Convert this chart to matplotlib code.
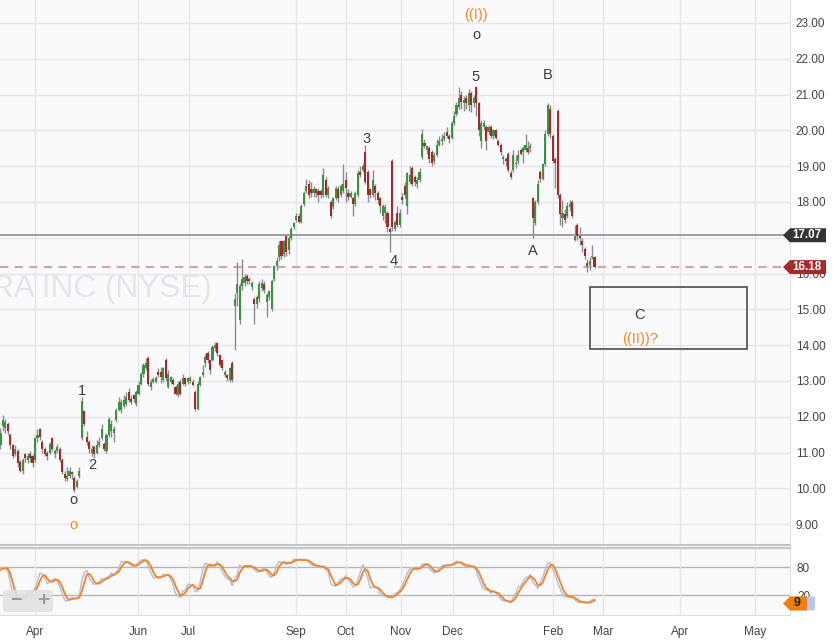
import numpy as np
import pandas as pd
import matplotlib
matplotlib.use('Agg')
import matplotlib.pyplot as plt
from matplotlib.patches import Rectangle, Polygon, FancyBboxPatch
from matplotlib.transforms import blended_transform_factory

plt.rcParams['font.family'] = ['Liberation Sans', 'DejaVu Sans']

###############################################################################
# Data (daily candles, one slot per trading day)
###############################################################################
opens = [
    11.20, 11.75, 11.70, 11.80, 11.50, 11.20, 10.95, 11.05, 10.75, 10.50,
    10.95, 10.80, 10.95, 10.90, 10.80, 11.40, 11.65, 11.30, 11.10, 11.00,
    11.00, 11.40, 10.95, 11.05, 11.10, 10.80, 10.40, 10.25, 10.35, 10.45,
    10.30, 10.05, 10.35, 11.40, 12.15, 11.45, 11.30, 11.00, 11.15, 11.00,
    11.20, 11.40, 11.25, 11.05, 11.50, 11.60, 11.55, 11.90, 12.20, 12.20,
    12.30, 12.35, 12.70, 12.50, 12.60, 12.37, 12.65, 12.93, 13.20, 13.35,
    13.63, 12.84, 12.98, 12.98, 13.25, 13.25, 13.02, 13.60, 12.84, 12.98,
    13.02, 12.84, 12.60, 12.98, 12.93, 13.07, 12.98, 13.00, 12.98, 12.70,
    12.23, 12.88, 13.16, 13.50, 13.77, 13.58, 13.58, 13.92, 14.05, 13.72,
    13.58, 13.16, 13.16, 13.02, 13.49, 15.10, 15.47, 14.70, 15.65, 15.75,
    15.92, 15.85, 15.62, 15.30, 15.15, 15.30, 15.60, 15.70, 15.20, 15.35,
    15.00, 15.85, 16.20, 16.45, 16.90, 16.55, 17.05, 16.65, 17.00, 17.30,
    17.50, 17.62, 17.45, 17.95, 18.30, 18.50, 18.35, 18.25, 18.35, 18.30,
    18.30, 18.20, 18.60, 18.20, 18.00, 17.85, 18.10, 18.35, 18.20, 18.30,
    18.60, 18.25, 18.15, 18.10, 17.95, 18.20, 18.85, 18.90, 19.40, 18.85,
    18.35, 18.20, 18.45, 18.25, 18.10, 17.60, 17.70, 17.70, 17.25, 19.15,
    17.25, 17.70, 17.35, 18.15, 18.45, 17.90, 18.55, 18.95, 18.70, 18.50,
    18.60, 19.25, 19.65, 19.45, 19.50, 19.40, 19.15, 19.30, 19.60, 19.70,
    19.75, 19.95, 19.85, 19.80, 20.20, 20.45, 20.65, 21.00, 20.75, 20.90,
    20.70, 21.05, 20.75, 21.20, 20.75, 19.70, 20.10, 20.10, 19.95, 20.10,
    19.85, 20.00, 19.70, 19.60, 19.20, 19.20, 19.35, 18.80, 18.90, 19.05,
    19.15, 19.45, 19.40, 19.45, 19.50, 19.50, 18.10, 17.40, 18.00, 18.85,
    18.65, 19.05, 19.90, 20.60, 19.85, 19.20, 20.55, 18.20, 17.55, 17.65,
    17.60, 17.85, 18.00, 16.95, 17.35, 17.05, 16.90, 16.70, 16.30, 16.25,
    16.45, 16.45,
]
closes = [
    11.55, 11.90, 11.85, 11.60, 11.20, 10.90, 11.10, 10.70, 10.50, 10.80,
    10.85, 10.90, 10.85, 10.70, 11.40, 11.50, 11.45, 11.10, 10.95, 10.90,
    11.25, 11.10, 11.05, 11.15, 10.80, 10.45, 10.30, 10.35, 10.50, 10.40,
    9.95, 10.20, 10.50, 12.45, 11.80, 11.30, 11.10, 11.10, 10.95, 11.20,
    11.30, 11.65, 11.10, 11.50, 11.95, 11.80, 11.65, 12.20, 12.40, 12.40,
    12.47, 12.55, 12.47, 12.42, 12.50, 12.70, 12.88, 13.20, 13.44, 13.49,
    12.93, 12.98, 13.05, 13.07, 13.16, 13.12, 13.35, 13.07, 13.20, 13.10,
    12.93, 12.65, 12.93, 12.65, 13.07, 12.93, 13.07, 13.07, 12.88, 12.23,
    12.93, 13.12, 13.25, 13.67, 13.58, 13.30, 13.95, 14.00, 13.77, 13.44,
    13.35, 13.25, 13.07, 13.35, 13.02, 15.30, 15.70, 15.65, 15.85, 15.90,
    15.80, 15.78, 15.75, 15.15, 15.35, 15.70, 15.75, 15.55, 15.40, 15.50,
    15.80, 16.20, 16.35, 16.80, 16.50, 16.90, 16.60, 17.00, 17.25, 17.40,
    17.60, 17.45, 17.90, 18.25, 18.45, 18.20, 18.25, 18.35, 18.25, 18.20,
    18.20, 18.75, 18.20, 18.40, 17.60, 18.10, 18.40, 18.10, 18.45, 18.50,
    18.40, 18.15, 18.25, 17.95, 18.25, 18.80, 18.75, 19.00, 18.55, 18.20,
    18.20, 18.60, 18.25, 18.05, 17.90, 17.90, 17.85, 17.30, 17.15, 17.30,
    17.45, 17.35, 17.70, 18.05, 18.20, 18.80, 18.75, 18.50, 18.55, 18.60,
    18.85, 19.90, 19.55, 19.55, 19.20, 19.10, 19.30, 19.60, 19.70, 19.75,
    19.85, 19.85, 19.75, 20.20, 20.40, 20.70, 20.90, 20.80, 20.85, 20.75,
    21.05, 20.70, 20.90, 20.75, 20.00, 20.20, 20.20, 19.70, 20.10, 19.85,
    20.00, 19.80, 19.60, 19.40, 19.25, 19.15, 18.90, 18.70, 19.30, 19.10,
    19.30, 19.35, 19.50, 19.60, 19.40, 19.55, 17.55, 18.00, 18.50, 18.65,
    19.05, 19.90, 20.70, 19.90, 19.15, 19.10, 18.20, 17.65, 17.70, 17.50,
    17.90, 17.95, 17.60, 17.05, 17.05, 17.00, 16.80, 16.50, 16.20, 16.35,
    16.50, 16.18,
]
highs = [
    11.70, 12.05, 11.95, 11.85, 11.55, 11.25, 11.20, 11.10, 10.80, 10.85,
    11.00, 11.00, 11.05, 10.95, 11.45, 11.65, 11.70, 11.35, 11.15, 11.05,
    11.30, 11.45, 11.10, 11.25, 11.15, 10.85, 10.50, 10.60, 10.60, 10.50,
    10.35, 10.25, 10.60, 12.55, 12.20, 11.60, 11.35, 11.20, 11.20, 11.35,
    11.45, 11.80, 11.30, 11.55, 12.00, 11.90, 11.75, 12.25, 12.55, 12.50,
    12.60, 12.70, 12.80, 12.60, 12.65, 12.75, 13.00, 13.25, 13.50, 13.65,
    13.70, 13.05, 13.10, 13.15, 13.35, 13.40, 13.40, 13.65, 13.30, 13.15,
    13.08, 12.90, 13.00, 13.05, 13.20, 13.10, 13.12, 13.15, 13.05, 12.75,
    13.00, 13.15, 13.45, 13.75, 13.85, 13.60, 14.00, 14.10, 14.10, 13.75,
    13.60, 13.30, 13.20, 13.40, 13.55, 15.45, 16.33, 15.75, 16.42, 16.00,
    16.00, 15.90, 15.80, 15.35, 15.40, 15.80, 15.85, 15.80, 15.45, 15.55,
    15.85, 16.25, 16.45, 16.90, 16.95, 16.95, 17.10, 17.05, 17.30, 17.45,
    17.70, 17.70, 17.95, 18.30, 18.65, 18.60, 18.55, 18.45, 18.40, 18.40,
    18.35, 18.95, 18.70, 18.45, 18.05, 18.15, 18.45, 18.45, 18.50, 19.05,
    18.85, 18.35, 18.30, 18.15, 18.30, 18.90, 19.00, 19.10, 19.60, 18.90,
    18.40, 18.90, 18.50, 18.30, 18.15, 17.95, 17.95, 17.75, 17.30, 19.20,
    17.50, 17.90, 17.80, 18.25, 18.55, 18.85, 19.00, 19.00, 18.75, 18.70,
    18.95, 20.05, 19.75, 19.60, 19.55, 19.45, 19.40, 19.75, 19.85, 19.90,
    19.95, 20.10, 19.90, 20.25, 20.55, 20.80, 21.20, 21.10, 20.95, 21.00,
    21.15, 21.10, 21.00, 21.25, 20.80, 20.30, 20.30, 20.15, 20.15, 20.15,
    20.05, 20.05, 19.75, 19.65, 19.30, 19.25, 19.40, 18.90, 19.45, 19.30,
    19.45, 19.50, 19.55, 19.90, 19.70, 19.65, 18.15, 18.05, 18.60, 18.90,
    19.10, 20.00, 20.75, 20.70, 19.90, 19.25, 20.60, 18.25, 18.05, 17.80,
    18.00, 18.05, 18.05, 17.35, 17.40, 17.30, 17.00, 16.75, 16.40, 16.45,
    16.80, 16.50,
]
lows = [
    11.10, 11.60, 11.55, 11.50, 11.10, 10.85, 10.90, 10.60, 10.45, 10.40,
    10.75, 10.70, 10.75, 10.60, 10.75, 11.30, 11.35, 11.00, 10.90, 10.80,
    10.95, 11.05, 10.85, 11.00, 10.75, 10.40, 10.20, 10.20, 10.30, 10.25,
    9.90, 10.00, 10.30, 11.35, 11.75, 11.20, 11.00, 10.90, 10.85, 10.95,
    11.15, 11.35, 11.05, 11.00, 11.45, 11.45, 11.30, 11.85, 12.15, 12.10,
    12.25, 12.30, 12.40, 12.35, 12.40, 12.30, 12.60, 12.90, 13.10, 13.30,
    12.85, 12.75, 12.95, 12.95, 13.10, 12.95, 12.98, 13.00, 12.80, 12.92,
    12.90, 12.60, 12.55, 12.60, 12.90, 12.85, 12.92, 12.95, 12.85, 12.15,
    12.20, 12.85, 13.10, 13.40, 13.50, 13.20, 13.55, 13.85, 13.70, 13.40,
    13.30, 13.10, 13.00, 12.98, 12.98, 13.86, 15.10, 14.60, 15.55, 15.65,
    15.70, 15.70, 15.55, 14.60, 15.05, 15.20, 15.50, 15.45, 14.80, 15.25,
    14.95, 15.80, 16.10, 16.35, 16.40, 16.45, 16.50, 16.55, 16.95, 17.25,
    17.45, 17.40, 17.40, 17.90, 18.25, 18.10, 18.15, 18.15, 18.15, 18.00,
    18.10, 18.15, 18.15, 18.10, 17.55, 17.80, 18.05, 18.00, 18.15, 18.25,
    18.00, 18.05, 18.10, 17.60, 17.90, 18.15, 18.70, 18.85, 18.50, 18.00,
    18.10, 18.15, 18.05, 17.95, 17.70, 17.50, 17.40, 17.15, 16.60, 17.20,
    17.20, 17.30, 17.30, 17.95, 18.10, 17.65, 18.50, 18.45, 18.45, 18.40,
    18.55, 19.20, 19.50, 19.35, 19.10, 19.00, 19.05, 19.25, 19.55, 19.60,
    19.70, 19.80, 19.65, 19.75, 20.15, 20.40, 20.60, 20.60, 20.55, 20.60,
    20.55, 20.50, 20.65, 20.40, 19.85, 19.50, 20.00, 19.45, 19.90, 19.80,
    19.75, 19.75, 19.55, 19.30, 19.05, 19.00, 18.85, 18.65, 18.85, 18.95,
    19.05, 19.30, 19.10, 19.40, 19.35, 19.40, 17.00, 17.35, 17.95, 18.55,
    18.60, 19.00, 19.85, 19.80, 19.10, 18.40, 18.10, 17.35, 17.30, 17.40,
    17.55, 17.75, 17.55, 16.90, 16.95, 16.80, 16.60, 16.40, 16.05, 16.10,
    16.40, 16.15,
]

# month labels along the time axis and the slot where each month starts
month_labels = ['Apr', 'Jun', 'Jul', 'Sep', 'Oct', 'Nov', 'Dec', 'Feb', 'Mar', 'Apr', 'May']
month_slots = [14.0, 55.8, 76.3, 119.8, 140.0, 162.3, 183.4, 224.1, 244.4, 275.7, 306.1]

# horizontal price levels
(LAST_PRICE, REF_PRICE) = (16.18, 17.07)

# Elliott wave annotations: (text, slot, price, colour key)
wave_text = ['1', '2', 'o', 'o', '3', '4', '5', 'o', '((I))', 'B', 'A', 'C', '((II))?']
wave_slot = [33.1, 37.1, 29.4, 29.4, 148.3, 159.6, 192.9, 192.9, 192.9, 222.1, 216.0, 259.4, 259.4]
wave_price = [12.72, 10.65, 9.68, 8.98, 19.76, 16.35, 21.49, 22.66, 23.22, 21.55, 16.63, 14.84, 14.17]
wave_orange = [False, False, False, True, False, False, False, False, True, False, False, False, True]

# target box for wave C / ((II))
box_slots = (239.1, 302.8)
box_prices = (13.89, 15.63)

###############################################################################
# Constants
###############################################################################
(UP, DOWN, WICK) = ('#3f9142', '#a3292b', '#8c8c8c')
(GRID, ORANGE, TEXT) = ('#e6e6e9', '#f28a2a', '#3c3c3c')
(W_PX, H_PX, DPI) = (838, 640, 100)
(XMIN, XMAX) = (-0.2, 320.3)

###############################################################################
# Stochastic oscillator from the candles
###############################################################################
df = pd.DataFrame({'o': opens, 'h': highs, 'l': lows, 'c': closes})
hh = df['h'].rolling(14, min_periods=1).max()
ll = df['l'].rolling(14, min_periods=1).min()
fastk = 100 * (df['c'] - ll) / (hh - ll)
stoch_k = fastk.rolling(3, min_periods=1).mean()
stoch_d = stoch_k.rolling(3, min_periods=1).mean()
slots = np.arange(len(df))

###############################################################################
# Figure
###############################################################################
fig = plt.figure(figsize=(W_PX / DPI, H_PX / DPI), dpi=DPI, facecolor='white')
ax = fig.add_axes([0, 95 / H_PX, 790 / W_PX, 545 / H_PX], facecolor='#fafafc')
ax2 = fig.add_axes([0, 25 / H_PX, 790 / W_PX, 67 / H_PX], facecolor='#fafafc')


def price_tag(axis, yval, label, fc, tc, half_px=7, body_px=36, tip_px=7, fs=8.3):
    tr = blended_transform_factory(axis.transAxes, axis.transData)
    (y0, y1) = axis.get_ylim()
    dy = half_px * (y1 - y0) / axis.bbox.height
    fx = lambda p: 1 + p / axis.bbox.width
    pts = [(fx(-tip_px), yval), (fx(0), yval + dy), (fx(body_px), yval + dy),
           (fx(body_px), yval - dy), (fx(0), yval - dy)]
    axis.add_patch(Polygon(pts, closed=True, transform=tr, facecolor=fc,
                           edgecolor='none', clip_on=False, zorder=10))
    axis.text(fx(body_px / 2 - 1), yval, label, transform=tr, ha='center', va='center',
              color=tc, fontsize=fs, fontweight='bold', clip_on=False, zorder=11)


# Main price panel -------------------------------------------------------------
ax.set_xlim(XMIN, XMAX)
ax.set_ylim(8.42, 23.64)
ax.set_xticks(month_slots)
ax.set_yticks(np.arange(9, 24))
ax.set_yticklabels(['{:.2f}'.format(v) for v in np.arange(9, 24)])
ax.grid(color=GRID, lw=1, zorder=0)
ax.set_axisbelow(True)
ax.yaxis.tick_right()
ax.tick_params(axis='x', length=0, labelbottom=False)
ax.tick_params(axis='y', length=0, pad=4, labelsize=8.5, labelcolor='#444444')
for s in ['top', 'left']:
    ax.spines[s].set_visible(False)
ax.spines['right'].set_color('#e2e2e2')
ax.spines['bottom'].set_color('#c4c4c4')
ax.spines['bottom'].set_linewidth(1.5)

ax.text(85.8, 15.35, 'RA INC (NYSE)', ha='right', va='baseline', fontsize=22.7,
        color='#e3e5ec', zorder=1, clip_on=True)

ax.axhline(REF_PRICE, color='#8e8e8e', lw=1.2, zorder=2)
ax.axhline(LAST_PRICE, color='#d6a3a3', lw=1.5, ls=(0, (4, 3)), zorder=2)

up = df['c'] >= df['o']
ax.vlines(slots, df['l'], df['h'], color=WICK, lw=1, zorder=3)
body = (df['c'] - df['o']).abs().clip(lower=0.04)
ax.bar(slots, body, bottom=df[['o', 'c']].min(axis=1), width=0.85,
       color=np.where(up, UP, DOWN), edgecolor='none', zorder=4)

for (t, s, p, o) in zip(wave_text, wave_slot, wave_price, wave_orange):
    ax.text(s, p, t, ha='center', va='center', fontsize=10.5,
            color=ORANGE if o else TEXT, zorder=6)

ax.add_patch(Rectangle((box_slots[0], box_prices[0]), box_slots[1] - box_slots[0],
                       box_prices[1] - box_prices[0], fill=False,
                       edgecolor='#5a5a5a', lw=1.3, zorder=5))

price_tag(ax, REF_PRICE, '{:.2f}'.format(REF_PRICE), '#333333', 'white')
price_tag(ax, LAST_PRICE, '{:.2f}'.format(LAST_PRICE), '#a3292b', 'white')

# Oscillator panel ------------------------------------------------------------
ax2.set_xlim(XMIN, XMAX)
ax2.set_ylim(-23, 122)
ax2.set_xticks(month_slots)
ax2.set_xticklabels(month_labels)
ax2.set_yticks([20, 80])
ax2.set_yticklabels(['20', '80'])
ax2.yaxis.tick_right()
ax2.grid(axis='x', color=GRID, lw=1, zorder=0)
ax2.axhline(80, color='#b4b4b4', lw=1, zorder=1)
ax2.axhline(20, color='#b4b4b4', lw=1, zorder=1)
ax2.tick_params(axis='x', length=0, pad=8, labelsize=8.5, labelcolor='#444444')
ax2.tick_params(axis='y', length=0, pad=5, labelsize=8.5, labelcolor='#444444')
for s in ['left']:
    ax2.spines[s].set_visible(False)
ax2.spines['right'].set_color('#e2e2e2')
ax2.spines['top'].set_color('#c4c4c4')
ax2.spines['top'].set_linewidth(1.5)
ax2.spines['bottom'].set_color('#dddddd')

ax2.plot(slots, stoch_k, color='#b3c0e6', lw=1.1, zorder=3)
ax2.plot(slots, stoch_d, color='#f5841f', lw=1.3, zorder=4)

price_tag(ax2, 2, '', '#b8c8ec', TEXT, half_px=7, body_px=25, tip_px=6)
price_tag(ax2, 2, '9', '#f07d10', '#222222', half_px=7, body_px=17, tip_px=7, fs=9)

# zoom widget in the lower left corner
widget = FancyBboxPatch((3 / W_PX, 28 / H_PX), 50 / W_PX, 22 / H_PX,
                        boxstyle='round,pad=0,rounding_size=0.004',
                        transform=fig.transFigure, facecolor='#e2e2e2',
                        edgecolor='none', alpha=0.9, zorder=20)
fig.patches.append(widget)
fig.text(16 / W_PX, 39 / H_PX, '\u2212', ha='center', va='center', fontsize=14,
         color='#9a9a9a', fontweight='bold', zorder=21)
fig.text(43 / W_PX, 39 / H_PX, '+', ha='center', va='center', fontsize=15,
         color='#9a9a9a', fontweight='bold', zorder=21)
fig.lines.append(plt.Line2D([29 / W_PX, 29 / W_PX], [31 / H_PX, 47 / H_PX],
                            transform=fig.transFigure, color='#f4f4f4', lw=1))

fig.savefig('out.png', dpi=DPI, facecolor='white')
